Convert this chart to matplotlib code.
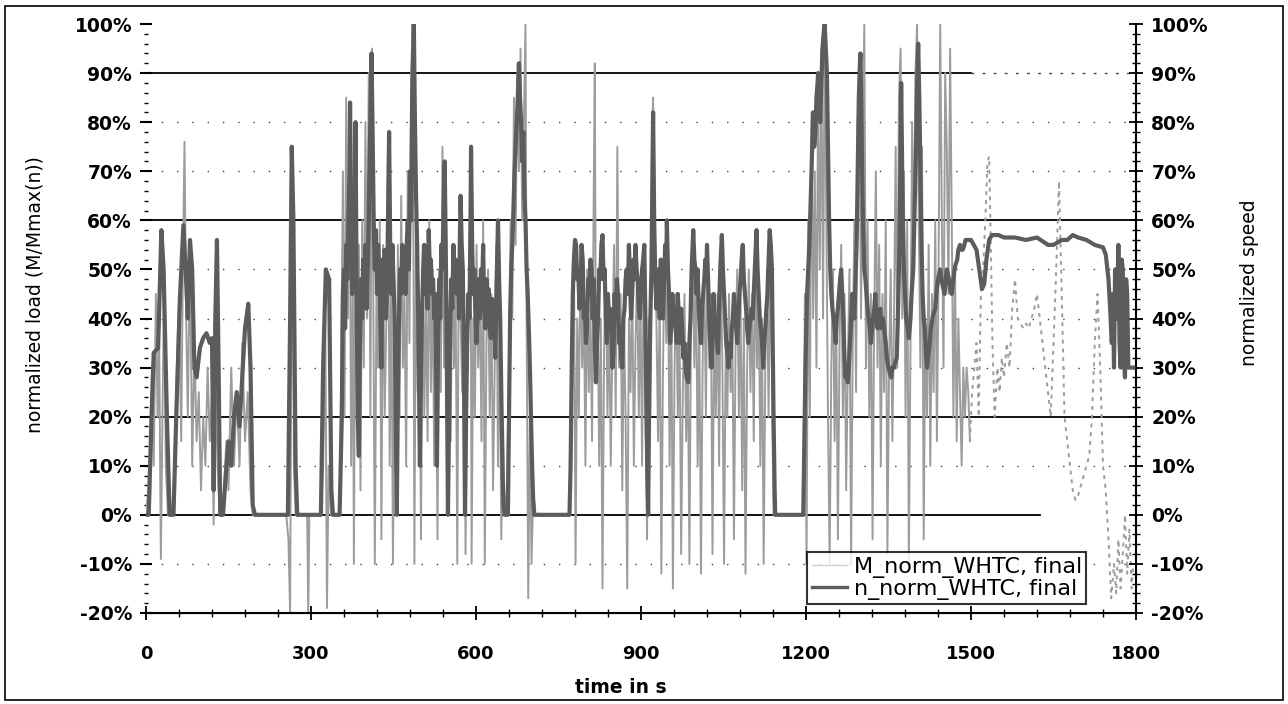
import matplotlib
matplotlib.use("Agg")
import matplotlib.pyplot as plt
from matplotlib.lines import Line2D
from matplotlib.patches import Rectangle
from matplotlib.ticker import MultipleLocator

# normalized speed n_norm_WHTC (time s, %)
speed_urban = [
    (0, 0), (5, 0), (10, 20), (14, 33), (22, 34), (28, 58), (32, 50), (38, 20), (43, 0), (50, 0),
    (55, 20), (62, 45), (68, 59), (72, 50), (76, 40), (80, 56), (84, 50), (88, 30), (92, 28),
    (98, 34), (104, 36), (110, 37), (116, 35), (120, 36), (123, 5), (126, 40), (129, 56),
    (132, 30), (135, 0), (140, 0), (145, 8), (150, 15), (155, 10), (160, 20), (165, 25),
    (170, 18), (175, 28), (180, 38), (186, 43), (190, 30), (194, 2), (198, 0), (258, 0),
    (262, 40), (265, 75), (268, 60), (272, 10), (275, 0), (318, 0), (322, 30), (327, 50),
    (333, 48), (337, 5), (340, 0), (352, 0),
    (354, 10), (356, 20), (358, 45), (360, 50), (362, 38), (364, 55), (366, 48), (368, 60),
    (370, 70), (371, 84), (373, 62), (375, 45), (377, 55), (379, 50), (381, 80), (383, 45),
    (385, 20), (387, 12), (389, 35), (391, 48), (393, 40), (395, 52), (397, 45), (399, 55),
    (401, 42), (403, 50), (405, 60), (407, 75), (409, 88), (410, 94), (412, 78), (414, 60),
    (416, 50), (418, 58), (420, 45), (422, 55), (424, 48), (426, 40), (428, 30), (430, 52),
    (432, 45), (434, 54), (436, 40), (438, 45), (440, 60), (442, 78), (444, 55), (446, 45),
    (448, 55), (450, 48), (452, 40), (454, 20), (456, 0),
    (458, 25), (460, 40), (462, 50), (464, 45), (466, 55), (468, 48), (470, 52), (472, 45),
    (474, 55), (476, 60), (478, 50), (480, 70), (482, 60), (484, 85), (486, 95), (487, 100),
    (489, 80), (491, 65), (493, 55), (495, 40), (497, 20), (498, 10), (500, 30), (502, 42),
    (504, 50), (506, 55), (508, 45), (510, 50), (512, 42), (514, 58), (516, 50), (518, 52),
    (520, 45), (522, 48), (524, 40), (526, 45), (528, 25), (529, 10), (531, 35), (533, 48),
    (535, 40), (537, 55), (539, 50), (541, 62), (543, 72), (545, 55), (547, 30), (549, 0),
    (551, 20), (553, 38), (555, 48), (557, 42), (559, 55), (561, 48), (563, 52), (565, 45),
    (567, 50), (569, 40), (571, 58), (572, 65), (574, 55), (576, 50), (578, 30), (580, 0),
    (582, 20), (584, 35), (586, 45), (588, 40), (590, 60), (591, 75), (593, 55), (595, 45),
    (597, 50), (599, 40), (601, 35), (603, 42), (605, 48), (607, 40), (609, 50), (611, 45),
    (613, 55), (615, 42), (617, 38), (619, 48), (621, 40), (623, 46), (625, 38), (627, 36),
    (629, 44), (631, 38), (633, 40), (635, 32), (637, 45), (639, 55), (640, 60), (642, 48),
    (644, 40), (646, 25), (648, 10), (650, 2), (652, 0), (658, 0), (660, 20), (662, 40),
    (664, 50), (666, 55), (668, 62), (670, 70), (672, 75), (674, 80), (676, 85), (678, 92),
    (680, 85), (682, 80), (684, 72), (686, 78), (688, 65), (690, 60), (692, 50), (694, 45),
    (696, 38), (698, 30), (700, 20), (702, 10), (704, 3), (706, 0), (770, 0),
]
speed_rural = [
    (772, 10), (774, 30), (776, 45), (778, 52), (780, 56), (782, 55), (784, 48), (786, 50),
    (788, 42), (790, 45), (792, 55), (794, 52), (796, 40), (798, 42), (800, 35), (802, 38),
    (804, 48), (806, 45), (808, 52), (810, 50), (812, 40), (814, 48), (816, 35), (818, 27),
    (820, 35), (822, 40), (824, 50), (826, 48), (828, 55), (830, 57), (832, 48), (834, 50),
    (836, 40), (838, 35), (840, 45), (842, 38), (844, 42), (846, 40), (848, 30), (850, 33),
    (852, 45), (854, 40), (856, 48), (858, 45), (860, 35), (862, 38), (864, 32), (866, 30),
    (868, 40), (870, 42), (872, 48), (874, 50), (876, 45), (878, 55), (880, 48), (882, 40),
    (884, 45), (886, 52), (888, 48), (890, 55), (892, 50), (894, 48), (896, 42), (898, 40),
    (900, 45), (902, 50), (904, 52), (906, 55), (908, 40), (910, 20), (912, 5), (913, 0),
    (915, 25), (917, 40), (919, 50), (921, 70), (922, 82), (924, 60), (926, 48), (928, 42),
    (930, 45), (932, 50), (934, 40), (936, 52), (938, 45), (940, 40), (942, 48), (944, 55),
    (946, 50), (947, 60), (949, 50), (951, 45), (953, 35), (955, 38), (957, 45), (959, 40),
    (961, 42), (963, 38), (965, 35), (967, 45), (969, 40), (971, 35), (973, 42), (975, 38),
    (977, 32), (979, 35), (981, 30), (983, 28), (986, 27), (988, 35), (990, 40), (992, 50),
    (994, 55), (995, 58), (997, 52), (999, 50), (1001, 45), (1003, 50), (1005, 42),
    (1007, 38), (1009, 35), (1011, 42), (1013, 45), (1015, 48), (1017, 52), (1019, 50),
    (1020, 55), (1022, 48), (1024, 40), (1026, 35), (1028, 30), (1030, 38), (1032, 45),
    (1034, 40), (1036, 38), (1038, 35), (1040, 33), (1042, 42), (1044, 50), (1046, 55),
    (1047, 57), (1049, 50), (1051, 45), (1053, 40), (1055, 35), (1057, 33), (1059, 30),
    (1061, 35), (1063, 32), (1065, 38), (1067, 40), (1069, 45), (1071, 42), (1073, 38),
    (1075, 35), (1077, 40), (1079, 45), (1081, 48), (1083, 52), (1085, 55), (1087, 48),
    (1089, 45), (1091, 42), (1093, 38), (1095, 35), (1097, 38), (1099, 40), (1101, 42),
    (1103, 40), (1105, 45), (1107, 50), (1109, 55), (1110, 58), (1112, 50), (1114, 45),
    (1116, 40), (1118, 38), (1120, 35), (1122, 30), (1124, 35), (1126, 38), (1128, 42),
    (1130, 45), (1132, 52), (1134, 58), (1136, 55), (1138, 50), (1140, 30), (1141, 20),
    (1143, 5), (1144, 0), (1195, 0),
]
speed_motorway = [
    (1197, 15), (1199, 30), (1201, 40), (1202, 45), (1204, 50), (1206, 55), (1208, 62),
    (1210, 70), (1212, 78), (1213, 82), (1215, 75), (1217, 78), (1219, 85), (1221, 88),
    (1222, 90), (1224, 82), (1226, 80), (1228, 88), (1230, 95), (1232, 98), (1234, 100),
    (1236, 95), (1238, 90), (1240, 75), (1242, 60), (1244, 50), (1246, 45), (1248, 42),
    (1250, 40), (1252, 38), (1254, 35), (1256, 40), (1258, 42), (1260, 45), (1262, 48),
    (1264, 50), (1266, 45), (1268, 40), (1270, 32), (1272, 28), (1274, 30), (1276, 27),
    (1278, 30), (1280, 35), (1282, 40), (1284, 45), (1286, 42), (1288, 40), (1290, 48),
    (1292, 55), (1294, 70), (1296, 85), (1298, 92), (1299, 94), (1301, 80), (1302, 70),
    (1304, 58), (1306, 50), (1308, 48), (1310, 45), (1312, 42), (1314, 40), (1316, 38),
    (1318, 35), (1320, 38), (1322, 40), (1324, 42), (1326, 45), (1328, 40), (1330, 38),
    (1332, 40), (1335, 42), (1337, 38), (1340, 40), (1342, 38), (1345, 35), (1347, 32),
    (1350, 30), (1352, 29), (1355, 28), (1357, 30), (1360, 30), (1362, 31), (1365, 32),
    (1367, 40), (1370, 55), (1372, 75), (1373, 88), (1375, 70), (1376, 60), (1378, 50),
    (1380, 45), (1382, 40), (1385, 38), (1387, 36), (1390, 40), (1392, 45), (1395, 50),
    (1397, 60), (1400, 75), (1402, 88), (1404, 96), (1406, 85), (1408, 70), (1410, 55),
    (1412, 45), (1414, 40), (1416, 38), (1418, 33), (1420, 30), (1422, 32), (1425, 35),
    (1427, 38), (1430, 40), (1432, 41), (1435, 42), (1437, 45), (1440, 48), (1442, 49),
    (1444, 50), (1446, 48), (1448, 47), (1450, 46), (1452, 45), (1454, 48), (1456, 50),
    (1458, 49), (1460, 48), (1462, 46), (1465, 45), (1467, 47), (1470, 50), (1472, 51),
    (1475, 52), (1477, 54), (1480, 55), (1483, 54), (1485, 54), (1488, 55), (1490, 56),
    (1500, 56), (1505, 55), (1510, 54), (1515, 50), (1520, 46), (1524, 47), (1528, 52),
    (1533, 56), (1538, 57), (1550, 57), (1560, 56.5), (1580, 56.5), (1600, 56),
    (1620, 56.5), (1640, 55), (1650, 55), (1665, 56), (1675, 56), (1685, 57), (1695, 56.5),
    (1710, 56), (1725, 55), (1740, 54.5), (1745, 53), (1750, 48), (1753, 42), (1756, 35),
    (1758, 45), (1760, 30), (1762, 50), (1765, 40), (1768, 55), (1770, 35), (1772, 30),
    (1774, 52), (1776, 50), (1778, 32), (1780, 28), (1782, 48), (1784, 45), (1786, 30),
    (1788, 30), (1792, 30), (1795, 30),
]

# normalized load M_norm_WHTC (time s, %)
load_urban = [
    (0, 0), (4, 5), (8, 15), (11, 30), (14, 10), (18, 45), (21, 20), (24, 35), (27, -9),
    (30, 20), (33, 50), (36, 10), (40, 0), (44, 2), (48, 0), (52, 10), (56, 30), (60, 45),
    (64, 15), (67, 50), (70, 76), (73, 40), (76, 20), (80, 55), (84, 10), (88, 35), (92, 15),
    (96, 25), (100, 5), (104, 20), (108, 10), (112, 30), (116, 15), (120, 25), (123, -2),
    (126, 30), (130, 10), (134, 0), (140, 1), (146, 15), (150, 5), (155, 30), (160, 10),
    (165, 25), (170, 10), (175, 35), (180, 15), (185, 25), (190, 5), (194, 0), (255, 0),
    (259, -5), (262, -20), (264, 30), (266, 75), (269, 10), (272, 0), (293, 0), (295, -20),
    (297, 0), (318, 0), (322, 10), (326, 40), (329, -19), (332, 10), (336, 0), (352, 0),
    (355, 30), (358, 70), (361, 20), (364, 85), (367, 40), (370, 80), (373, 10), (376, 50),
    (378, -10), (381, 65), (384, 20), (387, 55), (390, 5), (393, 60), (396, 30), (399, 80),
    (402, 40), (405, 90), (408, 20), (411, 95), (413, 50), (416, -10), (419, 45), (422, 30),
    (425, 60), (428, -5), (431, 55), (434, 20), (437, 40), (440, 75), (443, 10), (446, 50),
    (449, -10), (452, 35), (455, 0), (458, 55), (461, 20), (464, 65), (467, 30), (470, 45),
    (473, 10), (476, 70), (479, 35), (482, 90), (485, 100), (488, -10), (491, 60), (494, 25),
    (497, 40), (500, -5), (503, 55), (506, 20), (509, 45), (512, 15), (515, 60), (518, 25),
    (521, 50), (524, 10), (527, 40), (530, -5), (533, 50), (536, 25), (539, 75), (542, 30),
    (545, 55), (548, 5), (551, 40), (554, 15), (557, 55), (560, 30), (563, 45), (566, -10),
    (569, 60), (572, 40), (575, 25), (578, 50), (581, -8), (584, 30), (587, 45), (590, 70),
    (592, -10), (595, 40), (598, 20), (601, 55), (604, 30), (607, 45), (610, 15), (613, 60),
    (616, -10), (619, 35), (622, 50), (625, 20), (628, 45), (631, 5), (634, 30), (637, 55),
    (640, 10), (643, 40), (646, -5), (649, 20), (652, 0), (656, 5), (660, 30), (663, 60),
    (666, 40), (669, 85), (672, 55), (675, 90), (678, 70), (681, 95), (684, 60), (687, 80),
    (690, 100), (692, 40), (695, -17), (698, 20), (701, -10), (704, 5), (708, 0), (770, 0),
]
load_rural = [
    (774, 20), (778, 55), (781, -10), (784, 40), (787, 20), (790, 55), (793, 30), (796, 45),
    (799, 10), (802, 50), (805, 25), (808, 40), (811, 15), (814, 65), (816, 92), (818, 30),
    (821, 45), (824, 10), (827, 40), (830, -15), (833, 35), (836, 50), (839, 20), (842, 40),
    (845, 10), (848, 35), (851, 55), (854, 20), (857, 75), (860, 30), (863, 45), (866, 5),
    (869, 40), (872, 20), (875, -15), (878, 40), (881, 25), (884, 50), (887, 10), (890, 35),
    (893, 50), (896, 20), (899, 45), (902, 10), (905, 55), (908, 25), (911, -5), (914, 40),
    (917, 20), (920, 75), (922, 85), (925, 55), (928, 40), (931, 15), (934, 45), (937, -12),
    (940, 30), (943, 55), (946, 35), (949, 50), (952, 10), (955, 45), (958, -15), (961, 30),
    (964, 45), (967, 20), (970, 40), (973, -8), (976, 25), (979, 45), (982, 15), (985, 35),
    (988, -10), (991, 40), (994, 55), (997, 30), (1000, 50), (1003, 10), (1006, 40),
    (1009, -12), (1012, 30), (1015, 50), (1018, 20), (1021, 55), (1024, 30), (1027, 45),
    (1030, -8), (1033, 40), (1036, 20), (1039, 45), (1042, 10), (1045, 55), (1048, 30),
    (1051, -10), (1054, 35), (1057, 20), (1060, 45), (1063, 25), (1066, 40), (1069, -5),
    (1072, 35), (1075, 50), (1078, 20), (1081, 45), (1084, 5), (1087, 40), (1090, -12),
    (1093, 30), (1096, 50), (1099, 25), (1102, 45), (1105, 15), (1108, 55), (1111, 30),
    (1114, 45), (1117, 10), (1120, 40), (1123, -10), (1126, 30), (1129, 50), (1132, 20),
    (1135, 55), (1138, 30), (1141, 0), (1195, 0),
]
load_motorway = [
    (1198, 45), (1201, -10), (1204, 60), (1207, 20), (1210, 82), (1213, 40), (1216, 70),
    (1219, 30), (1222, 85), (1225, 50), (1228, 95), (1231, 40), (1234, 100), (1237, 60),
    (1240, 20), (1243, -10), (1246, 30), (1249, 50), (1252, 15), (1255, 40), (1258, -5),
    (1261, 35), (1264, 55), (1267, 20), (1270, 45), (1273, 5), (1276, 30), (1279, 50),
    (1282, -10), (1285, 35), (1288, 60), (1291, 25), (1294, 80), (1297, 90), (1300, 40),
    (1303, 75), (1306, 100), (1309, 30), (1312, 60), (1315, 20), (1318, 45), (1321, -5),
    (1324, 40), (1327, 70), (1330, 30), (1333, 55), (1336, 10), (1339, 45), (1342, 25),
    (1345, 60), (1348, -8), (1351, 30), (1354, 50), (1357, 15), (1360, 40), (1363, 75),
    (1366, 30), (1369, 85), (1372, 95), (1375, 40), (1378, 70), (1381, 20), (1384, 60),
    (1387, -10), (1390, 35), (1393, 80), (1396, 50), (1399, 90), (1402, 100), (1405, 60),
    (1408, 30), (1411, 75), (1414, -5), (1417, 40), (1420, 20), (1423, 55), (1426, 10),
    (1429, 45), (1432, 25), (1435, 60), (1438, 15), (1441, 50), (1444, 100), (1447, 60),
    (1450, 30), (1453, 90), (1456, 75), (1459, 45), (1462, 95), (1465, 60), (1468, 20),
    (1471, 50), (1474, 15), (1477, 40), (1480, 25), (1483, 10), (1486, 30), (1489, 20),
    (1492, 30), (1495, 25), (1498, 15),
]
# sparse, broken trace after the motorway accelerations
load_tail = [
    (1498, 15), (1502, 25), (1506, 30), (1510, 35), (1514, 20), (1518, 45), (1522, 50),
    (1526, 60), (1530, 72), (1533, 73), (1536, 55), (1539, 35), (1543, 20), (1548, 30),
    (1552, 25), (1556, 32), (1560, 28), (1565, 35), (1570, 30), (1575, 42), (1580, 48),
    (1585, 40), (1590, 39), (1595, 38), (1600, 39), (1605, 38), (1610, 40), (1615, 42),
    (1620, 45), (1625, 40), (1630, 35), (1635, 30), (1640, 25), (1645, 20), (1650, 35),
    (1655, 50), (1660, 68), (1665, 45), (1670, 20), (1675, 15), (1680, 10), (1685, 5),
    (1690, 3), (1695, 4), (1700, 6), (1705, 8), (1710, 10), (1715, 12), (1720, 20),
    (1725, 35), (1730, 45), (1735, 30), (1740, 10), (1745, 5), (1750, -5), (1755, -17),
    (1760, -10), (1764, -16), (1768, -5), (1772, -15), (1776, -8), (1780, 0), (1784, -12),
    (1788, -3), (1792, -15), (1795, -10),
]

y_ticks = [-20, -10, 0, 10, 20, 30, 40, 50, 60, 70, 80, 90, 100]
x_ticks = [0, 300, 600, 900, 1200, 1500, 1800]

speed_pts = speed_urban + speed_rural + speed_motorway
load_pts = load_urban + load_rural + load_motorway
t_speed = [p[0] for p in speed_pts]
n_norm = [p[1] for p in speed_pts]
t_load = [p[0] for p in load_pts]
m_norm = [p[1] for p in load_pts]
t_tail = [p[0] for p in load_tail]
m_tail = [p[1] for p in load_tail]

plt.rcParams['font.family'] = ['DejaVu Sans']

fig = plt.figure(figsize=(12.88, 7.04), dpi=100)
ax = fig.add_axes([146 / 1288, 1 - 613 / 704, 990 / 1288, 589 / 704])
ax2 = ax.twinx()

load_col = '#9c9c9c'
speed_col = '#5c5c5c'

# reference lines
solid = dict(color='black', lw=1.3, zorder=1)
ax.axhline(60, **solid)
ax.axhline(20, **solid)
ax.axhline(90, xmax=1500 / 1800, **solid)
ax.axhline(0, xmax=1625 / 1800, **solid)
for lvl in [80, 70, 50, 40, 30, 10, -10]:
    ax.axhline(lvl, color='#444444', lw=1.0, ls=(0, (1, 10)), zorder=1)
ax.axhline(90, xmin=1500 / 1800, color='#444444', lw=1.0, ls=(0, (2, 6)), zorder=1)

ax.plot(t_load, m_norm, color=load_col, lw=1.4, zorder=2)
ax.plot(t_tail, m_tail, color=load_col, lw=1.4, ls=(0, (2, 2.5)), zorder=2)
ax2.plot(t_speed, n_norm, color=speed_col, lw=3.0, zorder=3)

for a in (ax, ax2):
    a.set_xlim(0, 1800)
    a.set_ylim(-20, 100)
    a.spines['top'].set_visible(False)
    a.spines['left'].set_visible(False)
    a.spines['right'].set_visible(False)

ax2.spines['right'].set_visible(True)
ax2.spines['right'].set_linewidth(1.5)
ax.spines['bottom'].set_linewidth(1.5)

ax.set_xticks(x_ticks)
ax.xaxis.set_minor_locator(MultipleLocator(60))
ax.set_xticklabels([str(x) for x in x_ticks], fontsize=13, fontweight='bold')
ax.tick_params(axis='x', which='major', direction='inout', length=10, width=1.3, pad=18)
ax.tick_params(axis='x', which='minor', direction='inout', length=6, width=1.0)

ylabels = [f"{v}%" for v in y_ticks]
ax.set_yticks(y_ticks)
ax.set_yticklabels(ylabels, fontsize=13.5, fontweight='bold')
ax.yaxis.set_minor_locator(MultipleLocator(2))
ax.tick_params(axis='y', which='major', direction='inout', length=8, width=1.5, pad=6)
ax.tick_params(axis='y', which='minor', direction='inout', length=3, width=1.0)

ax2.set_yticks(y_ticks)
ax2.set_yticklabels(ylabels, fontsize=13.5, fontweight='bold')
ax2.yaxis.set_minor_locator(MultipleLocator(2))
ax2.tick_params(axis='y', which='major', direction='inout', length=10, width=1.3, pad=6)
ax2.tick_params(axis='y', which='minor', direction='inout', length=6, width=1.0)

ax.set_ylabel('normalized load (M/Mmax(n))', fontsize=13.5)
ax.yaxis.set_label_coords(-0.103, 0.54)
ax2.set_ylabel('normalized speed', fontsize=13.5)
ax2.yaxis.set_label_coords(1.105, 0.56)
ax.set_xlabel('time in s', fontsize=13.5, fontweight='bold')
ax.xaxis.set_label_coords(0.48, -0.11)

handles = [Line2D([], [], color='#d0d0d0', lw=1.0),
           Line2D([], [], color=speed_col, lw=2.4)]
leg = ax2.legend(handles, ['M_norm_WHTC, final', 'n_norm_WHTC, final'],
                 loc='lower right', bbox_to_anchor=(0.95, 0.015), fontsize=16,
                 frameon=True, fancybox=False, borderpad=0.2, handlelength=1.6,
                 handletextpad=0.3, labelspacing=0.05, borderaxespad=0)
leg.get_frame().set_edgecolor('black')
leg.get_frame().set_linewidth(1.5)
leg.set_zorder(10)

fig.patches.append(Rectangle((5 / 1288, 4 / 704), 1278 / 1288, 694 / 704,
                             transform=fig.transFigure, fill=False,
                             edgecolor='black', lw=1.2))

fig.savefig('out.png', dpi=100)
